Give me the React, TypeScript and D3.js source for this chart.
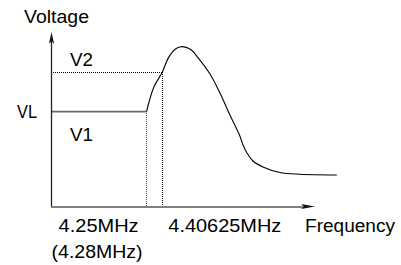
import React from 'react';
import * as d3 from 'd3';

// frequency / voltage in % of axis length
const curveFreq = [36.3, 37.4, 39.2, 42.3, 44.6, 47.3, 49.4, 51.4, 53.4, 55.9, 60.5, 64.3, 68.1, 71.9, 73.1, 74.6, 76.9, 80.7, 87.2, 94.8, 108.9];
const curveVolt = [54.5, 61.0, 69.0, 77.1, 85.2, 90.3, 91.6, 91.2, 89.7, 85.4, 76.0, 65.1, 52.6, 40.6, 35.4, 30.9, 26.3, 22.9, 19.7, 18.7, 18.3];

const levelVL = 54.5;
const levelV2 = 77.1;
const freqF1 = 36.3; // 4.25MHz
const freqF2 = 42.3; // 4.40625MHz

const levelLabels = ['V2', 'VL', 'V1'];
const tickLabels = ['4.25MHz', '4.40625MHz'];
const subTickLabel = '(4.28MHz)';
const axisTitles = ['Voltage', 'Frequency'];

const WIDTH = 401;
const HEIGHT = 265;
const FONT = '"Liberation Sans", Arial, sans-serif';

const App = () => {
  const xScale = d3.scaleLinear().domain([0, 100]).range([51.5, 313.5]);
  const yScale = d3.scaleLinear().domain([0, 100]).range([207, 32]);

  const pts: [number, number][] = curveFreq.map((f, i) => [f, curveVolt[i]]);
  const line = d3
    .line<[number, number]>()
    .x((d) => xScale(d[0]))
    .y((d) => yScale(d[1]))
    .curve(d3.curveCatmullRom.alpha(0.5));

  const x0 = xScale(0);
  const y0 = yScale(0);
  const yTop = yScale(100);
  const xEnd = xScale(100) + 1.5;

  const txt = { fontFamily: FONT, fontSize: 17.5, fill: '#000' };

  return (
    <svg
      width={WIDTH}
      height={HEIGHT}
      viewBox={`0 0 ${WIDTH} ${HEIGHT}`}
      style={{ position: 'absolute', left: 0, top: 0, background: '#fff' }}
    >
      {/* dotted guides */}
      <g shapeRendering="crispEdges" strokeDasharray="1,1">
        <line x1={x0 + 1} x2={xScale(freqF2)} y1={yScale(levelV2)} y2={yScale(levelV2)} stroke="#000" />
        <line x1={xScale(freqF1)} x2={xScale(freqF1)} y1={yScale(levelVL) + 1} y2={y0} stroke="#555" />
        <line x1={xScale(freqF2)} x2={xScale(freqF2)} y1={yScale(levelV2)} y2={y0} stroke="#000" />
      </g>

      {/* VL level */}
      <line x1={x0} x2={xScale(freqF1)} y1={yScale(levelVL)} y2={yScale(levelVL)} stroke="#666" strokeWidth={1.6} />

      {/* response curve */}
      <path d={line(pts) || ''} fill="none" stroke="#000" strokeWidth={1.1} />

      {/* axes */}
      <line x1={x0} x2={x0} y1={y0} y2={yTop + 6} stroke="#222" strokeWidth={1.3} />
      <path d={`M${x0},${yTop} L${x0 - 2.6},${yTop + 12} L${x0},${yTop + 9} L${x0 + 2.6},${yTop + 12} Z`} fill="#111" />
      <line x1={x0 - 0.6} x2={xEnd - 8} y1={y0} y2={y0} stroke="#808080" strokeWidth={2} />
      <path d={`M${xEnd},${y0 - 0.5} L${xEnd - 14},${y0 - 3} L${xEnd - 11},${y0 - 0.5} L${xEnd - 14},${y0 + 2} Z`} fill="#111" />

      {/* texts */}
      <text x={24} y={23} {...txt} textLength={65} lengthAdjust="spacingAndGlyphs">{axisTitles[0]}</text>
      <text x={305} y={232} {...txt} textLength={90} lengthAdjust="spacingAndGlyphs">{axisTitles[1]}</text>
      <text x={xScale(freqF1) - 88} y={232} {...txt} textLength={80} lengthAdjust="spacingAndGlyphs">{tickLabels[0]}</text>
      <text x={xScale(freqF2) + 6} y={232} {...txt} textLength={113} lengthAdjust="spacingAndGlyphs">{tickLabels[1]}</text>
      <text x={xScale(freqF1) - 95} y={258} {...txt} textLength={91} lengthAdjust="spacingAndGlyphs">{subTickLabel}</text>
      <text x={70} y={yScale(levelV2) - 6} {...txt} textLength={23} lengthAdjust="spacingAndGlyphs">{levelLabels[0]}</text>
      <text x={17} y={yScale(levelVL) + 6} {...txt} textLength={20} lengthAdjust="spacingAndGlyphs">{levelLabels[1]}</text>
      <text x={70} y={141} {...txt} textLength={23} lengthAdjust="spacingAndGlyphs">{levelLabels[2]}</text>
    </svg>
  );
};

export default App;
